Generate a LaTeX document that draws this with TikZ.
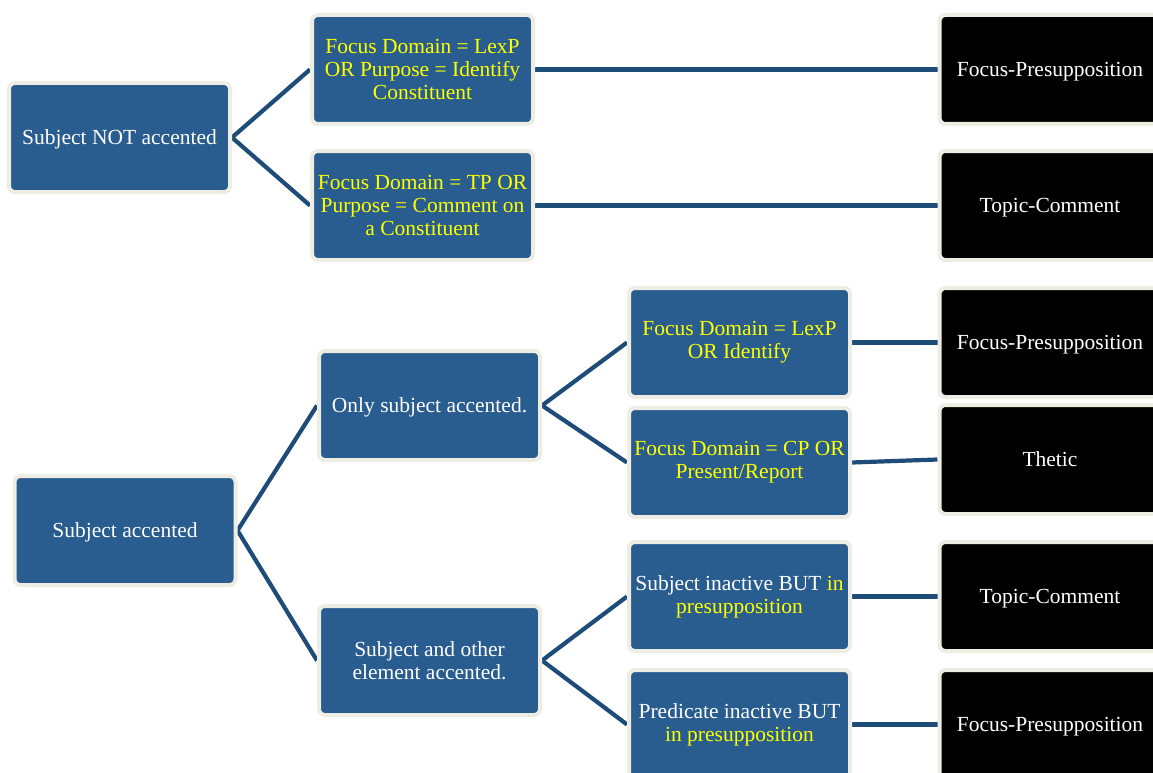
\documentclass[tikz,border=0pt]{standalone}
\usepackage{fontspec}
\setmainfont{Liberation Serif}
\usetikzlibrary{backgrounds}
\definecolor{boxblue}{RGB}{41,92,143}
\definecolor{linkblue}{RGB}{30,76,120}
\definecolor{rim}{RGB}{238,237,227}
\definecolor{hilite}{RGB}{255,255,0}
\tikzset{
  card/.style={rounded corners=6pt, draw=rim, line width=4pt,
    minimum width=221pt, minimum height=109pt, inner sep=2pt,
    align=center, text=white, font=\fontsize{21.5}{23}\selectfont},
  oneline/.style={text height=18pt, text depth=4pt},
  bluecard/.style={card, fill=boxblue},
  darkcard/.style={card, fill=black, oneline},
  pick/.style={text=hilite},
  link/.style={draw=linkblue, line width=4.2pt}
}
\begin{document}
\begin{tikzpicture}[x=1pt, y=-1pt]
\useasboundingbox (0,0) rectangle (1153,773);
\clip (0,0) rectangle (1153,773);

% upper tree: subject not accented
\node[bluecard, oneline] (sna) at (119.5,137.5) {Subject NOT accented};
\node[bluecard, pick] (f1) at (422.5,69.5) {Focus Domain = LexP\\OR Purpose = Identify\\Constituent};
\node[bluecard, pick] (f2) at (422.5,205.5) {Focus Domain = TP OR\\Purpose = Comment on\\a Constituent};
\node[darkcard] (b1) at (1050,69.5) {Focus-Presupposition};
\node[darkcard] (b2) at (1050,205.5) {Topic-Comment};

% lower tree: subject accented
\node[bluecard, oneline] (sa) at (125,530.5) {Subject accented};
\node[bluecard, oneline] (osa) at (429.5,405.5) {Only subject accented.};
\node[bluecard] (soe) at (429.5,660.5) {Subject and other\\element accented.};
\node[bluecard, pick] (g1) at (739.5,342.5) {Focus Domain = LexP\\OR Identify};
\node[bluecard, pick] (g2) at (739.5,462.5) {Focus Domain = CP OR\\Present/Report};
\node[bluecard] (h1) at (739.5,596.5) {Subject inactive BUT \textcolor{hilite}{in}\\\textcolor{hilite}{presupposition}};
\node[bluecard] (h2) at (739.5,724.5) {Predicate inactive BUT\\\textcolor{hilite}{in presupposition}};
\node[darkcard] (c1) at (1050,342.5) {Focus-Presupposition};
\node[darkcard] (c2) at (1050,459.5) {Thetic};
\node[darkcard] (c3) at (1050,596.5) {Topic-Comment};
\node[darkcard] (c4) at (1050,724.5) {Focus-Presupposition};

% connectors
\begin{scope}[on background layer]
  \draw[link] (sna.east) -- (f1.west);
  \draw[link] (sna.east) -- (f2.west);
  \draw[link] (f1.east) -- (b1.west);
  \draw[link] (f2.east) -- (b2.west);
  \draw[link] (sa.east) -- (osa.west);
  \draw[link] (sa.east) -- (soe.west);
  \draw[link] (osa.east) -- (g1.west);
  \draw[link] (osa.east) -- (g2.west);
  \draw[link] (soe.east) -- (h1.west);
  \draw[link] (soe.east) -- (h2.west);
  \draw[link] (g1.east) -- (c1.west);
  \draw[link] (g2.east) -- (c2.west);
  \draw[link] (h1.east) -- (c3.west);
  \draw[link] (h2.east) -- (c4.west);
\end{scope}
\end{tikzpicture}
\end{document}
